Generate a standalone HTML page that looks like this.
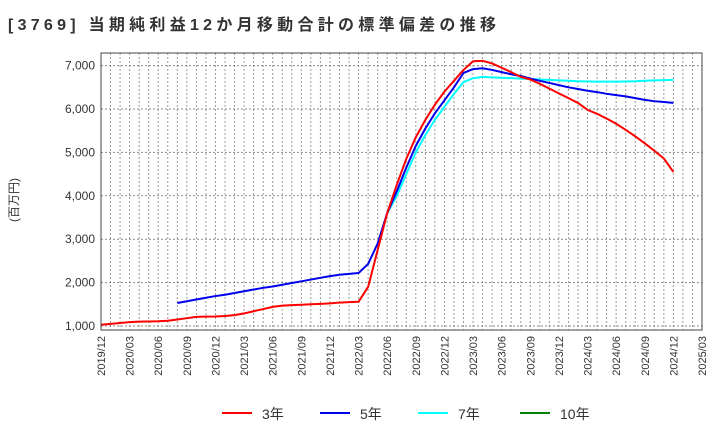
<!DOCTYPE html>
<html><head><meta charset="utf-8"><style>
body{margin:0;background:#fff;}
svg{font-family:"Liberation Sans","Noto Sans CJK JP",sans-serif;}
</style></head><body>
<svg width="720" height="440" id="c">
<text x="8" y="30" font-size="16" font-weight="bold" fill="#333" textLength="488" lengthAdjust="spacing">[3769]  当期純利益12か月移動合計の標準偏差の推移</text>
<text transform="translate(18,200) rotate(-90)" font-size="12" fill="#333" text-anchor="middle">(百万円)</text>
<g id="grid"></g><g id="lines"></g><g id="axes"></g>
</svg>
<script>
const yTicks=[1000,2000,3000,4000,5000,6000,7000];
const yLabels=["1,000","2,000","3,000","4,000","5,000","6,000","7,000"];
const xLabels=["2019/12","2020/03","2020/06","2020/09","2020/12","2021/03","2021/06","2021/09","2021/12","2022/03","2022/06","2022/09","2022/12","2023/03","2023/06","2023/09","2023/12","2024/03","2024/06","2024/09","2024/12","2025/03"];
const s3Start=0;
const s3=[1030,1050,1070,1090,1100,1105,1110,1120,1150,1180,1210,1215,1220,1230,1250,1290,1340,1390,1440,1470,1480,1490,1500,1510,1520,1540,1550,1560,1900,2750,3600,4250,4850,5350,5750,6100,6400,6650,6900,7100,7110,7050,6950,6850,6740,6680,6580,6470,6360,6250,6140,5980,5890,5780,5660,5520,5370,5210,5040,4860,4550];
const s5Start=8;
const s5=[1530,1570,1610,1650,1690,1720,1760,1800,1840,1880,1910,1950,1990,2030,2070,2110,2150,2180,2200,2220,2430,2900,3600,4100,4650,5150,5550,5900,6200,6500,6830,6920,6940,6900,6850,6800,6760,6700,6650,6600,6550,6500,6460,6420,6390,6350,6320,6290,6250,6210,6180,6160,6140];
const s7Start=30;
const s7=[3600,4000,4500,5000,5400,5750,6050,6350,6620,6710,6740,6730,6720,6710,6700,6690,6680,6670,6660,6650,6640,6635,6630,6630,6630,6635,6640,6650,6660,6665,6670];
const s10=[];
const L=101,R=702,T=53,B=330,NM=63;
const X=m=>L+m*(R-L)/NM;
const Y=v=>326-(v-1000)*43.4/1000;
const ns="http://www.w3.org/2000/svg";
function mk(t,a,p){const e=document.createElementNS(ns,t);for(const k in a)e.setAttribute(k,a[k]);p.appendChild(e);return e;}
const g=document.getElementById('grid'),ln=document.getElementById('lines'),ax=document.getElementById('axes'),svg=document.getElementById('c');
for(let m=1;m<NM;m++){const e=mk('line',{x1:X(m),x2:X(m),y1:T,y2:B,stroke:'#999','stroke-dasharray':'2,2','stroke-width':1},g);

}
yTicks.forEach((v,i)=>{const e=mk('line',{x1:L,x2:R,y1:Y(v),y2:Y(v),stroke:'#888','stroke-dasharray':'2,2','stroke-width':1},g);


const t=mk('text',{x:L-6,y:Y(v)+4,'font-size':12,'text-anchor':'end',fill:'#333'},ax);t.textContent=yLabels[i];

});
xLabels.forEach((s,i)=>{const x=X(i*3);const t=mk('text',{transform:`translate(${x+4},${B+6}) rotate(-90)`,'font-size':11,'text-anchor':'end',fill:'#333'},ax);t.textContent=s;

});
const fr=mk('rect',{x:L,y:T,width:R-L,height:B-T,fill:'none',stroke:'#444','stroke-width':1},ax);


function line(arr,start,color,name){if(!arr.length)return;const p=mk('polyline',{points:arr.map((v,i)=>X(start+i)+','+Y(v)).join(' '),fill:'none',stroke:color,'stroke-width':2,'stroke-linejoin':'round'},ln);

}
line(s7,s7Start,'#00ffff','series-7y');
line(s5,s5Start,'#0000ee','series-5y');
line(s3,s3Start,'#ff0000','series-3y');
line(s10,0,'#008000','series-10y');
const leg=[['3年','#ff0000',222],['5年','#0000ee',320],['7年','#00ffff',418],['10年','#008000',520]];
leg.forEach(a=>{const gg=mk('g',{},svg);


mk('line',{x1:a[2],x2:a[2]+30,y1:413,y2:413,stroke:a[1],'stroke-width':2},gg);
const t=mk('text',{x:a[2]+40,y:419,'font-size':14,fill:'#333'},gg);t.textContent=a[0];});
</script>
</body></html>
